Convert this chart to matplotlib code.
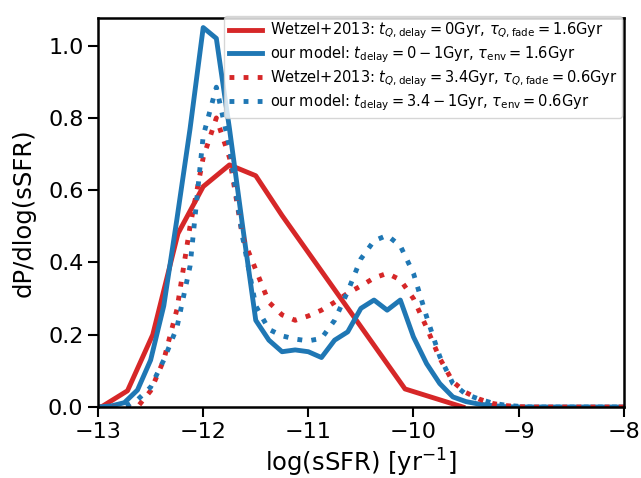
import numpy as np
import matplotlib
matplotlib.use("Agg")
import matplotlib.pyplot as plt

# bin centres used by the model curves
x_bins = [-13.0, -12.875, -12.75, -12.625, -12.5, -12.375, -12.25, -12.125,
          -12.0, -11.875, -11.75, -11.625, -11.5, -11.375, -11.25, -11.125,
          -11.0, -10.875, -10.75, -10.625, -10.5, -10.375, -10.25, -10.125,
          -10.0, -9.875, -9.75, -9.625, -9.5, -9.375, -9.25, -9.125,
          -9.0, -8.875, -8.75, -8.625, -8.5, -8.375, -8.25, -8.125, -8.0]

# Wetzel+2013, t_delay = 0, tau_fade = 1.6
x_wetzel0 = [-12.97, -12.72, -12.48, -12.24, -12.0, -11.75, -11.5, -11.25, -10.08, -9.53]
y_wetzel0 = [0.0, 0.045, 0.20, 0.48, 0.61, 0.67, 0.64, 0.53, 0.05, 0.0]

# our model, t_delay = 0-1, tau_env = 1.6
y_model0 = [0.0, 0.003, 0.012, 0.047, 0.13, 0.28, 0.52, 0.77,
            1.05, 1.02, 0.77, 0.50, 0.24, 0.185, 0.153, 0.158,
            0.153, 0.137, 0.185, 0.208, 0.273, 0.296, 0.268, 0.296,
            0.194, 0.12, 0.065, 0.028, 0.015, 0.008, 0.004, 0.001,
            0.0, 0.0, 0.0, 0.0, 0.0, 0.0, 0.0, 0.0, 0.0]

# Wetzel+2013, t_delay = 3.4, tau_fade = 0.6
y_wetzel34 = [0.0, 0.0, 0.0, 0.0, 0.045, 0.13, 0.27, 0.50,
              0.69, 0.80, 0.69, 0.47, 0.38, 0.29, 0.255, 0.24,
              0.252, 0.268, 0.29, 0.315, 0.335, 0.357, 0.37, 0.352,
              0.30, 0.22, 0.135, 0.07, 0.04, 0.022, 0.01, 0.004,
              0.001, 0.0, 0.0, 0.0, 0.0, 0.0, 0.0, 0.0, 0.0]

# our model, t_delay = 3.4-1, tau_env = 0.6
y_model34 = [0.0, 0.0, 0.0, 0.02, 0.055, 0.13, 0.22, 0.39,
             0.75, 0.885, 0.72, 0.47, 0.28, 0.215, 0.197, 0.188,
             0.183, 0.19, 0.24, 0.32, 0.41, 0.46, 0.475, 0.446,
             0.37, 0.25, 0.14, 0.065, 0.035, 0.022, 0.011, 0.005,
             0.002, 0.0, 0.0, 0.0, 0.0, 0.0, 0.0, 0.0, 0.0]

RED = '#d62728'
BLUE = '#1f77b4'
LW = 3.5
DOTS = (0, (1, 1.9))

fig = plt.figure(figsize=(6.41, 4.78), dpi=100)
ax = fig.add_axes([0.153, 0.1485, 0.82, 0.8135])

ax.plot(x_wetzel0, y_wetzel0, color=RED, lw=LW,
        label=r'Wetzel+2013: $t_{Q,\rm delay}=0{\rm Gyr}$, $\tau_{Q,\rm fade}=1.6{\rm Gyr}$')
ax.plot(x_bins, y_model0, color=BLUE, lw=LW,
        label=r'our model: $t_{\rm delay}=0-1{\rm Gyr}$, $\tau_{\rm env}=1.6{\rm Gyr}$')
ax.plot(x_bins, y_wetzel34, color=RED, lw=LW, ls=DOTS,
        label=r'Wetzel+2013: $t_{Q,\rm delay}=3.4{\rm Gyr}$, $\tau_{Q,\rm fade}=0.6{\rm Gyr}$')
ax.plot(x_bins, y_model34, color=BLUE, lw=LW, ls=DOTS,
        label=r'our model: $t_{\rm delay}=3.4-1{\rm Gyr}$, $\tau_{\rm env}=0.6{\rm Gyr}$')

ax.set_xlim(-13, -8)
ax.set_ylim(0, 1.076)
ax.set_yticks([0.0, 0.2, 0.4, 0.6, 0.8, 1.0])
ax.set_xlabel(r'log(sSFR) [yr$^{-1}$]', fontsize=17.5)
ax.set_ylabel('dP/dlog(sSFR)', fontsize=17.5, labelpad=9)
ax.tick_params(labelsize=16, length=7, width=1.5, direction='out')
for sp in ax.spines.values():
    sp.set_linewidth(1.8)

ax.legend(loc='upper right', fontsize=10.5, bbox_to_anchor=(1.0, 1.01),
          borderaxespad=0.1, borderpad=0.35, handlelength=2.3,
          labelspacing=0.22, handletextpad=0.5)

fig.savefig('out.png', dpi=100)
